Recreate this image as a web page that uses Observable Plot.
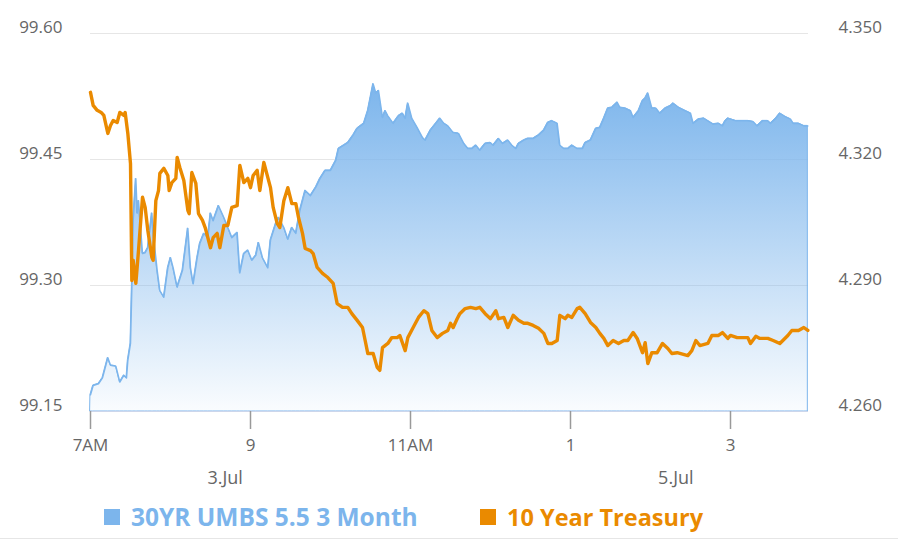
<!DOCTYPE html>
<html>
<head>
<meta charset="utf-8">
<script src="https://cdn.jsdelivr.net/npm/d3@7"></script>
<script src="https://cdn.jsdelivr.net/npm/@observablehq/plot@0.6"></script>
<style>
  html, body { margin: 0; padding: 0; background: #fff; }
  body { width: 898px; height: 539px; overflow: hidden; font-family: "Open Sans", sans-serif; }
  #legend { display: block; border-bottom: 1px solid #e6e6e6; }
</style>
</head>
<body>
<div id="chart"></div>
<script>
// ---- data ----
const umbsName = "30YR UMBS 5.5 3 Month";
const tsyName = "10 Year Treasury";
const umbs = [
["07:00",99.170],["07:02",99.181],["07:06",99.183],["07:09",99.190],["07:13",99.214],["07:15",99.205],["07:19",99.204],["07:22",99.185],["07:25",99.193],["07:27",99.190],["07:28",99.211],["07:30",99.231],["07:31",99.298],["07:32",99.377],["07:34",99.427],["07:35",99.386],["07:36",99.401],["07:39",99.338],["07:41",99.339],["07:43",99.345],["07:46",99.386],["07:47",99.362],["07:50",99.318],["07:52",99.294],["07:55",99.286],["07:58",99.321],["08:00",99.333],["08:02",99.321],["08:05",99.298],["08:09",99.318],["08:13",99.368],["08:15",99.321],["08:17",99.302],["08:20",99.333],["08:22",99.350],["08:25",99.362],["08:28",99.357],["08:30",99.386],["08:32",99.377],["08:36",99.395],["08:40",99.381],["08:43",99.369],["08:46",99.357],["08:50",99.363],["08:52",99.315],["08:55",99.338],["08:58",99.342],["09:01",99.330],["09:04",99.336],["09:06",99.351],["09:09",99.333],["09:13",99.321],["09:15",99.354],["09:19",99.374],["09:21",99.381],["09:25",99.369],["09:28",99.355],["09:31",99.369],["09:34",99.362],["09:37",99.389],["09:41",99.413],["09:45",99.407],["09:49",99.417],["09:52",99.427],["09:56",99.437],["10:00",99.437],["10:04",99.449],["10:06",99.463],["10:10",99.467],["10:13",99.470],["10:17",99.479],["10:20",99.487],["10:25",99.493],["10:28",99.508],["10:30",99.524],["10:32",99.540],["10:34",99.529],["10:36",99.532],["10:39",99.500],["10:41",99.508],["10:43",99.502],["10:47",99.493],["10:51",99.502],["10:54",99.505],["10:56",99.499],["10:58",99.517],["11:01",99.499],["11:05",99.488],["11:09",99.476],["11:11",99.473],["11:15",99.485],["11:19",99.493],["11:22",99.499],["11:25",99.493],["11:28",99.490],["11:32",99.482],["11:36",99.481],["11:40",99.469],["11:43",99.463],["11:46",99.463],["11:49",99.467],["11:52",99.461],["11:56",99.469],["12:00",99.470],["12:02",99.467],["12:06",99.475],["12:09",99.469],["12:13",99.473],["12:16",99.467],["12:19",99.463],["12:21",99.469],["12:25",99.473],["12:28",99.475],["12:32",99.475],["12:36",99.479],["12:40",99.485],["12:43",99.494],["12:46",99.496],["12:50",99.493],["12:52",99.467],["12:55",99.463],["12:58",99.463],["13:01",99.467],["13:05",99.463],["13:09",99.463],["13:11",99.470],["13:15",99.473],["13:19",99.487],["13:22",99.488],["13:25",99.499],["13:28",99.511],["13:31",99.512],["13:35",99.518],["13:37",99.512],["13:41",99.511],["13:45",99.508],["13:47",99.500],["13:51",99.508],["13:54",99.520],["13:56",99.523],["13:58",99.529],["14:01",99.511],["14:04",99.511],["14:07",99.505],["14:11",99.511],["14:15",99.514],["14:17",99.517],["14:21",99.512],["14:26",99.508],["14:30",99.505],["14:32",99.493],["14:36",99.498],["14:40",99.499],["14:43",99.496],["14:47",99.492],["14:51",99.493],["14:54",99.490],["14:56",99.496],["14:58",99.499],["15:04",99.496],["15:09",99.496],["15:13",99.496],["15:17",99.495],["15:20",99.490],["15:24",99.496],["15:28",99.496],["15:30",99.493],["15:34",99.499],["15:37",99.505],["15:41",99.501],["15:45",99.498],["15:47",99.493],["15:51",99.493],["15:55",99.490],["15:58",99.490]
];
const treasury = [
["07:00",4.3360],["07:02",4.3329],["07:05",4.3317],["07:08",4.3312],["07:10",4.3305],["07:13",4.3262],["07:15",4.3281],["07:17",4.3293],["07:20",4.3288],["07:22",4.3312],["07:25",4.3305],["07:26",4.3312],["07:28",4.3262],["07:30",4.3190],["07:31",4.2912],["07:32",4.2960],["07:34",4.2905],["07:36",4.2983],["07:39",4.3110],["07:41",4.3086],["07:43",4.3031],["07:46",4.2967],["07:47",4.2960],["07:49",4.3102],["07:51",4.3126],["07:52",4.3167],["07:55",4.3179],["07:58",4.3162],["07:59",4.3126],["08:01",4.3145],["08:04",4.3155],["08:05",4.3205],["08:07",4.3181],["08:10",4.3150],["08:13",4.3079],["08:14",4.3071],["08:16",4.3169],["08:19",4.3143],["08:21",4.3071],["08:24",4.3055],["08:26",4.3038],["08:30",4.2990],["08:32",4.3014],["08:35",4.3024],["08:37",4.2990],["08:40",4.3043],["08:43",4.3043],["08:46",4.3086],["08:50",4.3090],["08:52",4.3186],["08:55",4.3145],["08:58",4.3155],["09:00",4.3133],["09:02",4.3162],["09:05",4.3174],["09:07",4.3126],["09:10",4.3193],["09:13",4.3157],["09:15",4.3133],["09:17",4.3086],["09:20",4.3048],["09:22",4.3038],["09:25",4.3102],["09:28",4.3133],["09:31",4.3095],["09:34",4.3095],["09:36",4.3062],["09:39",4.3024],["09:41",4.2988],["09:45",4.2983],["09:47",4.2976],["09:50",4.2943],["09:54",4.2929],["09:58",4.2919],["10:02",4.2905],["10:05",4.2857],["10:09",4.2848],["10:13",4.2848],["10:16",4.2833],["10:20",4.2817],["10:24",4.2800],["10:26",4.2769],["10:28",4.2738],["10:32",4.2738],["10:35",4.2705],["10:37",4.2698],["10:39",4.2752],["10:43",4.2762],["10:46",4.2776],["10:50",4.2776],["10:52",4.2781],["10:56",4.2745],["10:58",4.2776],["11:02",4.2800],["11:06",4.2824],["11:10",4.2840],["11:13",4.2833],["11:16",4.2793],["11:20",4.2776],["11:24",4.2786],["11:28",4.2793],["11:30",4.2810],["11:32",4.2800],["11:35",4.2821],["11:37",4.2833],["11:41",4.2845],["11:45",4.2848],["11:49",4.2845],["11:52",4.2848],["11:56",4.2833],["12:00",4.2821],["12:04",4.2840],["12:06",4.2821],["12:10",4.2824],["12:13",4.2800],["12:17",4.2829],["12:21",4.2817],["12:25",4.2810],["12:28",4.2810],["12:32",4.2805],["12:36",4.2798],["12:40",4.2786],["12:43",4.2762],["12:46",4.2762],["12:50",4.2769],["12:52",4.2829],["12:56",4.2821],["12:58",4.2829],["13:01",4.2824],["13:05",4.2845],["13:07",4.2848],["13:11",4.2833],["13:15",4.2812],["13:19",4.2800],["13:22",4.2786],["13:25",4.2774],["13:28",4.2757],["13:32",4.2769],["13:36",4.2762],["13:40",4.2769],["13:43",4.2769],["13:47",4.2788],["13:50",4.2774],["13:54",4.2740],["13:56",4.2764],["13:58",4.2714],["14:01",4.2740],["14:05",4.2740],["14:09",4.2762],["14:13",4.2750],["14:16",4.2738],["14:20",4.2740],["14:28",4.2733],["14:31",4.2745],["14:34",4.2769],["14:37",4.2757],["14:43",4.2762],["14:46",4.2781],["14:51",4.2781],["14:54",4.2788],["14:58",4.2774],["15:00",4.2781],["15:05",4.2776],["15:13",4.2776],["15:15",4.2762],["15:19",4.2779],["15:22",4.2774],["15:28",4.2774],["15:32",4.2769],["15:37",4.2762],["15:43",4.2781],["15:46",4.2793],["15:51",4.2793],["15:55",4.2800],["15:58",4.2793]
];
const leftTicks = [99.15, 99.30, 99.45, 99.60];
const rightTicks = [4.260, 4.290, 4.320, 4.350];
const xTickTimes = ["07:00", "09:00", "11:00", "13:00", "15:00"];
const xTickLabels = ["7AM", "9", "11AM", "1", "3"];
const xDomain = ["07:00", "15:58:30"];
const dateLabels = ["3.Jul", "5.Jul"];
const dateLabelTimes = ["08:41", "14:19"];

// ---- helpers ----
const blue = "#7cb5ec", orange = "#ea8a00", gray = "#666";
const parse = s => { const [h, m, sec] = s.split(":").map(Number); return new Date(2024, 6, 3, h, m, sec || 0); };
// map the right-axis (treasury) scale onto the left-axis domain
const lMin = leftTicks[0], lMax = leftTicks[leftTicks.length - 1];
const rMin = rightTicks[0], rMax = rightTicks[rightTicks.length - 1];
const toLeft = v => lMin + (v - rMin) * (lMax - lMin) / (rMax - rMin);
const toRight = v => rMin + (v - lMin) * (rMax - rMin) / (lMax - lMin);

const umbsData = umbs.map(([t, v]) => ({t: parse(t), v}));
const tsyData = treasury.map(([t, v]) => ({t: parse(t), v: toLeft(v)}));
const xTickMap = new Map(xTickTimes.map((s, i) => [+parse(s), xTickLabels[i]]));
const dateData = dateLabels.map((l, i) => ({t: parse(dateLabelTimes[i]), l}));

const defs = () => {
  const ns = "http://www.w3.org/2000/svg";
  const d = document.createElementNS(ns, "defs");
  d.innerHTML = `<linearGradient id="umbsGrad" x1="0" y1="0" x2="0" y2="1">
    <stop offset="0" stop-color="${blue}" stop-opacity="1"/>
    <stop offset="1" stop-color="${blue}" stop-opacity="0.04"/></linearGradient>`;
  return d;
};

const chart = Plot.plot({
  width: 898,
  height: 498,
  marginTop: 33,
  marginBottom: 87,
  marginLeft: 90,
  marginRight: 90,
  style: {fontFamily: "'Open Sans', sans-serif", fontSize: "17px", color: gray, background: "#fff"},
  x: {type: "time", domain: xDomain.map(parse)},
  y: {domain: [lMin, lMax]},
  marks: [
    defs,
    Plot.ruleY(leftTicks.slice(1), {stroke: "#e6e6e6", strokeWidth: 1}),
    Plot.area(umbsData, {x1: "t", y1: () => lMin, y2: "v", fill: "url(#umbsGrad)", stroke: blue, strokeWidth: 1}),
    Plot.line(umbsData, {x: "t", y: "v", stroke: blue, strokeWidth: 1.5}),
    Plot.line(tsyData, {x: "t", y: "v", stroke: orange, strokeWidth: 3.4, strokeLinejoin: "round"}),
    Plot.ruleY([lMin], {stroke: "#ccd6eb", strokeWidth: 1}),
    Plot.axisY(leftTicks, {anchor: "left", tickSize: 0, tickPadding: 28, dy: -6, tickFormat: d => d.toFixed(2), fill: gray, label: null}),
    Plot.axisY(leftTicks, {anchor: "right", tickSize: 0, tickPadding: 30, dy: -6, tickFormat: d => toRight(d).toFixed(3), fill: gray, label: null}),
    Plot.axisX(xTickTimes.map(parse), {anchor: "bottom", tickSize: 18, tickPadding: 9, tickFormat: d => xTickMap.get(+d), stroke: "#999", strokeOpacity: 1, strokeWidth: 1.5, fill: gray, label: null}),
    Plot.text(dateData, {x: "t", text: "l", frameAnchor: "bottom", dy: 72, fontSize: 18, fill: gray})
  ]
});
document.getElementById("chart").appendChild(chart);

// ---- legend (below the plot SVG) ----
const ns = "http://www.w3.org/2000/svg";
const lg = document.createElementNS(ns, "svg");
lg.setAttribute("id", "legend");
lg.setAttribute("width", 898);
lg.setAttribute("height", 40);
const items = [
  {name: umbsName, color: blue, x: 104, size: 24.5},
  {name: tsyName, color: orange, x: 480, size: 23.5}
];
for (const it of items) {
  const r = document.createElementNS(ns, "rect");
  r.setAttribute("x", it.x); r.setAttribute("y", 11);
  r.setAttribute("width", 16); r.setAttribute("height", 16);
  r.setAttribute("fill", it.color);
  lg.appendChild(r);
  const t = document.createElementNS(ns, "text");
  t.setAttribute("x", it.x + 27); t.setAttribute("y", 28);
  t.setAttribute("fill", it.color);
  t.setAttribute("font-family", "'Open Sans', sans-serif");
  t.setAttribute("font-weight", "bold");
  t.setAttribute("font-size", it.size);
  t.textContent = it.name;
  lg.appendChild(t);
}
document.getElementById("chart").appendChild(lg);
</script>
</body>
</html>
